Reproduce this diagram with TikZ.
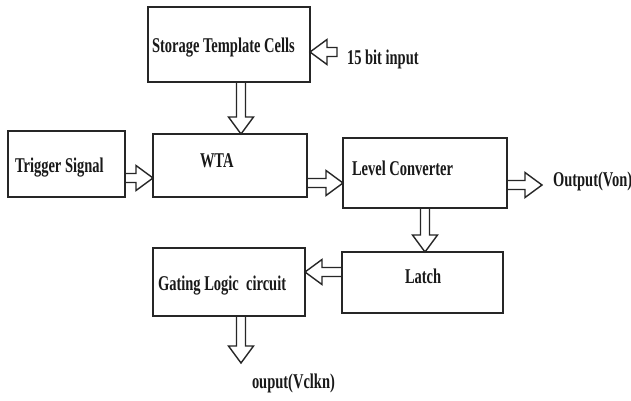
\documentclass[tikz,border=0pt]{standalone}
\usepackage{fontspec}
\setmainfont{Liberation Serif}[FakeStretch=0.69]
\usetikzlibrary{calc}
\tikzset{
  blk/.style={draw=black!85, line width=1.8pt, inner sep=0pt, outer sep=0pt},
  barrowline/.style={draw=black!85, line width=1.4pt, line join=miter},
  lbl/.style={anchor=base west, inner sep=0pt, outer sep=0pt, text=black!90,
    font=\fontsize{21}{25}\selectfont\bfseries},
}
\newcommand{\blockarrow}[2]{%
  \coordinate (hb) at ($(#2)!17pt!(#1)$);
  \draw[barrowline] ($(#1)!4.5pt!90:(#2)$) -- ($(hb)!4.5pt!90:(#2)$)
    -- ($(hb)!12.5pt!90:(#2)$) -- (#2) -- ($(hb)!12.5pt!-90:(#2)$)
    -- ($(hb)!4.5pt!-90:(#2)$) -- ($(#1)!4.5pt!-90:(#2)$) -- cycle;
}
\begin{document}
\begin{tikzpicture}[x=1pt,y=-1pt]
  \path[use as bounding box, fill=white] (0,0) rectangle (631,400);
  % boxes
  \node[blk, minimum width=162pt, minimum height=75pt] (store) at (229,44.5) {};
  \node[blk, minimum width=117pt, minimum height=66pt] (trig) at (66.5,164) {};
  \node[blk, minimum width=154pt, minimum height=63pt] (wta) at (230,165.5) {};
  \node[blk, minimum width=164pt, minimum height=70pt] (level) at (425,173) {};
  \node[blk, minimum width=161pt, minimum height=61pt] (latch) at (422.5,282.5) {};
  \node[blk, minimum width=152pt, minimum height=68pt] (gate) at (229,282) {};
  % labels
  \node[lbl] (tstore) at (152,52) {Storage Template Cells};
  \node[lbl] (tin) at (347,64) {15 bit input};
  \node[lbl] (twta) at (200,167) {WTA};
  \node[lbl] (ttrig) at (15,172) {Trigger Signal};
  \node[lbl] (tlevel) at (352,175) {Level Converter};
  \node[lbl] (tout) at (553,186) {Output(Von)};
  \node[lbl] (tlatch) at (405,283) {Latch};
  \node[lbl] (tgate) at (158,290) {Gating Logic\ \ circuit};
  \node[lbl] (tclk) at (252,388) {ouput(Vclkn)};
  % free ends
  \coordinate (inS) at (337,52);
  \coordinate (outE) at (542,185);
  \coordinate (clkE) at (241,363);
  % arrows
  \blockarrow{inS}{$(store.east)+(0,7.5)$}
  \blockarrow{$(store.south)+(12,0)$}{$(wta.north)+(11,0)$}
  \blockarrow{$(trig.east)+(0,14)$}{$(wta.west)+(0,12.5)$}
  \blockarrow{$(wta.east)+(0,17.5)$}{$(level.west)+(0,10)$}
  \blockarrow{$(level.east)+(0,12)$}{outE}
  \blockarrow{level.south}{$(latch.north)+(2.5,0)$}
  \blockarrow{$(latch.west)+(0,-10.5)$}{$(gate.east)+(0,-10)$}
  \blockarrow{$(gate.south)+(12,0)$}{clkE}
\end{tikzpicture}
\end{document}
